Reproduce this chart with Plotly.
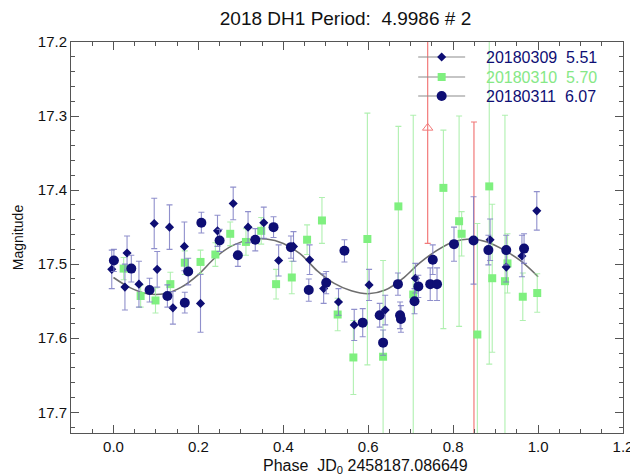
import plotly.graph_objects as go

# ---------------- data ----------------
# 20180309  (diamonds)
phase_09 = [-0.004, 0.027, 0.032, 0.060, 0.096, 0.103, 0.132, 0.140, 0.167, 0.205,
            0.245, 0.282, 0.317, 0.354, 0.389, 0.424, 0.462, 0.495, 0.530, 0.567,
            0.602, 0.640, 0.711, 0.887, 0.925, 0.962, 0.997]
mag_09 = [17.507, 17.531, 17.485, 17.527, 17.445, 17.507, 17.450, 17.559, 17.476, 17.553,
          17.455, 17.418, 17.450, 17.444, 17.495, 17.476, 17.494, 17.533, 17.551, 17.582,
          17.528, 17.562, 17.519, 17.467, 17.504, 17.489, 17.428]
err_09 = [0.026, 0.031, 0.023, 0.031, 0.034, 0.024, 0.030, 0.022, 0.033, 0.039,
          0.021, 0.022, 0.021, 0.021, 0.021, 0.020, 0.020, 0.020, 0.018, 0.021,
          0.021, 0.020, 0.020, 0.028, 0.020, 0.028, 0.026]

# 20180310  (squares)
phase_10 = [0.024, 0.064, 0.099, 0.134, 0.168, 0.205, 0.240, 0.275, 0.312, 0.348,
            0.383, 0.420, 0.456, 0.491, 0.528, 0.565, 0.598, 0.635, 0.671, 0.706,
            0.777, 0.814, 0.820, 0.857, 0.885, 0.892, 0.922, 0.928, 0.964, 0.998]
mag_10 = [17.506, 17.543, 17.549, 17.527, 17.498, 17.497, 17.487, 17.459, 17.470, 17.455,
          17.527, 17.518, 17.467, 17.441, 17.568, 17.626, 17.466, 17.625, 17.422, 17.541,
          17.397, 17.442, 17.459, 17.595, 17.395, 17.519, 17.523, 17.499, 17.544, 17.539]
err_10_fainter = [0.015, 0.015, 0.017, 0.016, 0.016, 0.016, 0.016, 0.016, 0.018, 0.018,
                  0.020, 0.022, 0.020, 0.031, 0.022, 0.050, 0.170, 0.130, 0.108, 0.242,
                  0.190, 0.142, 0.030, 0.150, 0.240, 0.100, 0.224, 0.040, 0.032, 0.026]
err_10_brighter = [0.015, 0.015, 0.017, 0.016, 0.016, 0.016, 0.016, 0.016, 0.018, 0.018,
                   0.020, 0.022, 0.020, 0.031, 0.022, 0.050, 0.170, 0.130, 0.108, 0.242,
                   0.078, 0.142, 0.030, 0.150, 0.240, 0.100, 0.224, 0.040, 0.032, 0.026]

# 20180311  (circles)
phase_11 = [0.001, 0.042, 0.085, 0.127, 0.168, 0.176, 0.207, 0.250, 0.293, 0.334,
            0.377, 0.418, 0.460, 0.501, 0.544, 0.587, 0.627, 0.635, 0.670, 0.675,
            0.677, 0.709, 0.718, 0.746, 0.752, 0.762, 0.802, 0.848, 0.883, 0.925, 0.967]
mag_11 = [17.495, 17.506, 17.535, 17.543, 17.552, 17.510, 17.444, 17.468, 17.488, 17.467,
          17.450, 17.477, 17.535, 17.525, 17.482, 17.579, 17.569, 17.606, 17.527, 17.569,
          17.574, 17.550, 17.530, 17.527, 17.494, 17.527, 17.473, 17.468, 17.481, 17.481, 17.479]
err_11 = [0.015, 0.018, 0.016, 0.015, 0.014, 0.018, 0.014, 0.015, 0.015, 0.015,
          0.014, 0.015, 0.015, 0.015, 0.015, 0.019, 0.016, 0.017, 0.015, 0.018,
          0.018, 0.017, 0.015, 0.022, 0.020, 0.022, 0.023, 0.059, 0.020, 0.020, 0.020]

# rejected / poorly measured points (red)
phase_bad = [0.740, 0.849]
mag_bad = [17.316, 17.850]
err_bad = [0.156, 0.542]

# Fourier fit curve
fit_phase = [0.00, 0.04, 0.08, 0.12, 0.16, 0.20, 0.24, 0.28, 0.32, 0.36, 0.40, 0.44, 0.48,
             0.52, 0.56, 0.60, 0.64, 0.68, 0.72, 0.76, 0.80, 0.84, 0.88, 0.92, 0.96, 1.00]
fit_mag = [17.518, 17.532, 17.540, 17.540, 17.531, 17.514, 17.491, 17.475, 17.467, 17.466,
           17.472, 17.486, 17.509, 17.526, 17.536, 17.540, 17.535, 17.520, 17.499, 17.482,
           17.470, 17.466, 17.470, 17.481, 17.496, 17.517]

series_names = ["20180309", "20180310", "20180311"]
series_periods = ["5.51", "5.70", "6.07"]

title_text = "2018 DH1 Period: &nbsp;4.9986 # 2"
x_title = "Phase &nbsp;JD<sub>0</sub> 2458187.086649"
y_title = "Magnitude"

# ---------------- styling ----------------
NAVY = "#0e0e74"
GREEN = "#7ff07f"
GREEN_TXT = "#86e886"
ERR_NAVY = "rgba(125,125,195,0.85)"
ERR_GREEN = "rgba(150,235,150,0.75)"
RED = "#f27a7a"
FONT = "Liberation Sans, Arial, Helvetica, sans-serif"

# page body has an 8px margin, so the figure is sized to fit the window
W, H = 630, 467
ML, MR, MT, MB = 62.5, 15, 34, 42
PW, PH = W - ML - MR, H - MT - MB

fig = go.Figure()

# fit curve
fig.add_trace(go.Scatter(x=fit_phase, y=fit_mag, mode="lines",
                         line=dict(color="#6e6e6e", width=1.6, shape="spline"),
                         showlegend=False, hoverinfo="skip"))

# red points
fig.add_trace(go.Scatter(x=phase_bad, y=mag_bad, mode="markers",
                         marker=dict(symbol="triangle-up-open", size=9, color=RED, line=dict(width=1)),
                         error_y=dict(type="data", array=err_bad, color=RED, thickness=1.2, width=3),
                         showlegend=False))

# 20180310 squares
fig.add_trace(go.Scatter(x=phase_10, y=mag_10, mode="markers",
                         marker=dict(symbol="square", size=8, color=GREEN),
                         error_y=dict(type="data", array=err_10_fainter, arrayminus=err_10_brighter,
                                      symmetric=False, color=ERR_GREEN, thickness=1.1, width=3),
                         showlegend=False))

# 20180309 diamonds
fig.add_trace(go.Scatter(x=phase_09, y=mag_09, mode="markers",
                         marker=dict(symbol="diamond", size=7, color=NAVY),
                         error_y=dict(type="data", array=err_09, color=ERR_NAVY, thickness=1.1, width=3),
                         showlegend=False))

# 20180311 circles
fig.add_trace(go.Scatter(x=phase_11, y=mag_11, mode="markers",
                         marker=dict(symbol="circle", size=10, color=NAVY),
                         error_y=dict(type="data", array=err_11, color=ERR_NAVY, thickness=1.1, width=3),
                         showlegend=False))

# ---- legend key, drawn on a hidden overlay axis measured in figure pixels ----
leg_styles = [("diamond", 7, NAVY, NAVY), ("square", 8, GREEN, GREEN_TXT), ("circle", 10, NAVY, NAVY)]
leg_rows = [49, 69, 88]          # row centres (figure px from top)
leg_line = (410, 457)            # key line extent (figure px)
leg_text_x = 476
for (name, per, (sym, sz, mcol, tcol), ry) in zip(series_names, series_periods, leg_styles, leg_rows):
    fig.add_trace(go.Scatter(x=list(leg_line), y=[ry, ry], xaxis="x2", yaxis="y2", mode="lines",
                             line=dict(color="#8c8c8c", width=1.2), showlegend=False, hoverinfo="skip"))
    fig.add_trace(go.Scatter(x=[sum(leg_line) / 2], y=[ry], xaxis="x2", yaxis="y2", mode="markers",
                             marker=dict(symbol=sym, size=sz, color=mcol), showlegend=False,
                             hoverinfo="skip"))
    fig.add_annotation(text=f"{name} &nbsp;{per}", xref="x2", yref="y2", x=leg_text_x, y=ry,
                       xanchor="left", yanchor="middle", showarrow=False,
                       font=dict(family=FONT, size=16, color=tcol))

axis_common = dict(showline=True, linecolor="#555", linewidth=1, mirror="allticks",
                   ticks="inside", ticklen=8, tickcolor="#555", tickwidth=1,
                   showgrid=False, zeroline=False, automargin=False,
                   tickfont=dict(family=FONT, size=15, color="#111"))

fig.update_layout(
    xaxis=dict(range=[-0.1, 1.2], tick0=0, dtick=0.2, tickformat=".1f", ticklabelstandoff=0,
               minor=dict(ticks="inside", ticklen=4, dtick=0.05, tickcolor="#555"),
               **axis_common),
    yaxis=dict(range=[17.728, 17.2], tick0=17.2, dtick=0.1, tickformat=".1f",
               minor=dict(ticks="inside", ticklen=4, dtick=0.02, tickcolor="#555"),
               title=dict(text=y_title, font=dict(family=FONT, size=14, color="#111"), standoff=10),
               **axis_common),
    xaxis2=dict(overlaying="x", range=[ML, W - MR], visible=False, fixedrange=True),
    yaxis2=dict(overlaying="y", range=[H - MB, MT], visible=False, fixedrange=True),
)

fig.add_annotation(text=x_title, xref="paper", yref="paper", x=(357 - ML) / PW, y=-33 / PH,
                   xanchor="center", yanchor="middle", showarrow=False,
                   font=dict(family=FONT, size=16, color="#111"))

fig.update_layout(
    width=W, height=H,
    margin=dict(l=ML, r=MR, t=MT, b=MB),
    paper_bgcolor="white", plot_bgcolor="white",
    title=dict(text=title_text, x=337.5 / W, xanchor="center", y=1 - 10.5 / H, yanchor="middle",
               font=dict(family=FONT, size=19, color="#111")),
    showlegend=False,
    font=dict(family=FONT),
)

fig.write_html("out.html")
